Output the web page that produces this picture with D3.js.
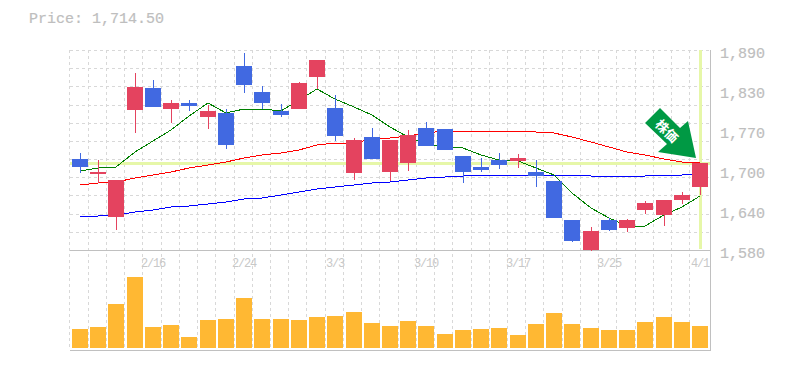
<!DOCTYPE html>
<html>
<head>
<meta charset="utf-8">
<script src="https://cdn.jsdelivr.net/npm/d3@7"></script>
<style>
  html, body { margin: 0; padding: 0; background: #fff; }
  svg { display: block; }
  text { font-family: "Liberation Mono", monospace; }
</style>
</head>
<body>
<div id="viewport"></div>
<script>
const price = 1714.5;
const priceTicks = [1580, 1642, 1704, 1766, 1828, 1890];
const priceTickLabels = ["1,580", "1,640", "1,700", "1,770", "1,830", "1,890"];
const dateLabels = {4: "2/16", 9: "2/24", 14: "3/3", 19: "3/10", 24: "3/17", 29: "3/25", 34: "4/1"};

const open = [1721.05,1697.8,1631.15,1797,1831.1,1798.55,1807.85,1786.15,1792.35,1865.2,1824.9,1795.45,1798.55,1848.15,1800.1,1699.35,1755.15,1700.9,1714.85,1769.1,1767.55,1725.7,1708.65,1719.5,1718,1700.9,1687,1626.5,1580,1626.5,1614.1,1642,1634.25,1657.5,1677.65];
const high = [1730.35,1719.5,1688.5,1854.35,1843.5,1812.5,1812.5,1804.75,1798.55,1885.35,1834.2,1806.3,1840.4,1874.5,1820.25,1753.6,1769.1,1750.5,1766,1778.4,1767.55,1725.7,1722.6,1730.35,1728.8,1719.5,1687,1626.5,1615.65,1629.6,1628.05,1655.95,1657.5,1669.9,1714.5];
const low = [1699.35,1683.85,1611,1761.35,1801.65,1776.85,1795.45,1767.55,1736.55,1823.35,1798.55,1786.15,1798.55,1829.55,1749,1688.5,1721.05,1687,1702.45,1741.2,1735,1683.85,1700.9,1705.55,1707.1,1677.65,1629.6,1592.4,1578.45,1609.45,1607.9,1635.8,1617.2,1651.3,1665.25];
const close = [1708.65,1700.9,1688.5,1832.65,1801.65,1807.85,1803.2,1795.45,1742.75,1835.75,1807.85,1789.25,1838.85,1874.5,1756.7,1750.5,1721.05,1750.5,1758.25,1741.2,1735,1700.9,1704,1711.75,1722.6,1694.7,1629.6,1594,1609.45,1611,1626.5,1652.85,1657.5,1665.25,1714.5];

const maShort = [1702.45,1707.1,1708.65,1731.9,1748.95,1766,1787.7,1807.85,1792.35,1798.55,1798.55,1795.45,1812.5,1829.55,1814,1801.65,1789.25,1770.65,1755.15,1744.3,1739.65,1738.1,1727.25,1719.5,1718,1707.1,1696.25,1668.35,1645.1,1629.6,1617.2,1617.2,1634.25,1646.65,1663.7];
const maMid = [1680.75,1683.85,1685.4,1691.6,1696.25,1700.9,1707.1,1711.75,1716.4,1722.6,1727.25,1730.35,1735,1742.75,1745.85,1745.85,1752.05,1753.6,1756.7,1761.35,1764.45,1764.45,1764.45,1764.45,1764.45,1762.9,1761.35,1755.15,1747.4,1739.65,1731.9,1727.25,1721.05,1716.4,1714.85];
const maLong = [1631.15,1632.7,1634.25,1638.9,1642,1646.65,1648.2,1651.3,1654.4,1659.05,1660.6,1665.25,1669.9,1674.55,1677.65,1680.75,1683.85,1685.4,1688.5,1691.6,1693.15,1694.7,1696.25,1696.25,1696.25,1696.25,1696.25,1696.25,1694.7,1694.7,1694.7,1694.7,1696.25,1696.25,1697.8];

const volume = [19,21,44,71,21,23,11,28,29,50,29,29,28,31,32,36,25,22,27,22,14,18,19,20,13,24,35,24,20,18,18,26,31,26,22];

const upColor = "#e4435f";
const downColor = "#4169e1";
const gridColor = "#d8d8d8";
const axisColor = "#c0c0c0";
const textColor = "#bebebe";
const markColor = "#e6f7a8";

const width = 785;
const height = 370;

const svg = d3.select("#viewport").append("svg")
	.attr("width", width)
	.attr("height", height);

const index = d3.range(open.length);

const x = d3.scaleBand().domain(index).range([70.9, 709.1]);
const y = d3.scaleLinear().domain([1580, 1890]).range([250, 50]);
const v = d3.scaleLinear().domain([0, 71]).range([348, 277]);

const center = (i) => Math.round(x(i) + x.bandwidth() / 2);
const gridX = (i) => Math.floor(x(i) - 1) + 0.5;

// grid
const grid = svg.append("g")
	.attr("stroke", gridColor)
	.attr("stroke-dasharray", "3,3")
	.attr("shape-rendering", "crispEdges");

grid.selectAll(".v")
	.data(index)
	.enter().append("line")
	.attr("x1", gridX).attr("x2", gridX)
	.attr("y1", 50).attr("y2", 350);

grid.selectAll(".h")
	.data(d3.range(0, 11))
	.enter().append("line")
	.attr("x1", 70).attr("x2", 710)
	.attr("y1", (d) => Math.round(50 + d * 200 / 11) + 0.5)
	.attr("y2", (d) => Math.round(50 + d * 200 / 11) + 0.5);

// current price + last date markers
svg.append("line")
	.attr("x1", 70).attr("x2", 710)
	.attr("y1", Math.round(y(price)) + 0.5).attr("y2", Math.round(y(price)) + 0.5)
	.attr("stroke", markColor).attr("stroke-width", 3)
	.attr("shape-rendering", "crispEdges");
svg.append("line")
	.attr("x1", center(34) + 0.5).attr("x2", center(34) + 0.5)
	.attr("y1", 50).attr("y2", 249)
	.attr("stroke", markColor).attr("stroke-width", 3)
	.attr("shape-rendering", "crispEdges");

// frame
const frame = svg.append("g").attr("stroke", axisColor).attr("shape-rendering", "crispEdges");
frame.append("line").attr("x1", 70).attr("x2", 711).attr("y1", 250.5).attr("y2", 250.5);
frame.append("line").attr("x1", 70).attr("x2", 711).attr("y1", 350.5).attr("y2", 350.5);
frame.append("line").attr("x1", 710.5).attr("x2", 710.5).attr("y1", 50).attr("y2", 351);

// moving averages
const line = d3.line().x((d, i) => center(i)).y((d) => y(d));
const maLine = (data, color, w) => svg.append("path")
	.attr("d", line(data))
	.attr("fill", "none")
	.attr("stroke", color)
	.attr("stroke-width", w)
	.attr("shape-rendering", "crispEdges");
maLine(maLong, "#0000ff", 1);
maLine(maMid, "#ff0000", 1);
maLine(maShort, "#008000", 1);

// candles
const isUp = (i) => close[i] >= open[i];
const candleColor = (i) => isUp(i) ? upColor : downColor;

svg.append("g").selectAll("line")
	.data(index)
	.enter().append("line")
	.attr("x1", (i) => center(i) + 0.5)
	.attr("x2", (i) => center(i) + 0.5)
	.attr("y1", (i) => y(high[i]))
	.attr("y2", (i) => y(low[i]))
	.attr("stroke", candleColor)
	.attr("stroke-width", 1)
	.attr("shape-rendering", "crispEdges");

svg.append("g").selectAll("rect")
	.data(index)
	.enter().append("rect")
	.attr("x", (i) => center(i) - 8)
	.attr("width", 16)
	.attr("y", (i) => Math.round(y(Math.max(open[i], close[i]))))
	.attr("height", (i) => Math.max(1, Math.round(Math.abs(y(open[i]) - y(close[i])))))
	.attr("fill", candleColor);

// volume
svg.append("g").selectAll("rect")
	.data(index)
	.enter().append("rect")
	.attr("x", (i) => center(i) - 8)
	.attr("width", 16)
	.attr("y", (i) => v(volume[i]))
	.attr("height", (i) => v(0) - v(volume[i]))
	.attr("fill", "#ffb833");

// labels
svg.append("text")
	.attr("x", 29).attr("y", 23)
	.attr("font-size", 15)
	.attr("fill", textColor)
	.attr("stroke", textColor)
	.attr("stroke-width", 0.2)
	.text("Price: " + d3.format(",.2f")(price));

svg.append("g").selectAll("text")
	.data(priceTicks)
	.enter().append("text")
	.attr("x", 720)
	.attr("y", (d) => y(d) + 8)
	.attr("font-size", 15)
	.attr("fill", textColor)
	.attr("stroke", textColor)
	.attr("stroke-width", 0.2)
	.text((d, i) => priceTickLabels[i]);

svg.append("g").selectAll("text")
	.data(Object.keys(dateLabels))
	.enter().append("text")
	.attr("x", (d) => center(+d))
	.attr("y", 267)
	.attr("text-anchor", "middle")
	.attr("font-size", 12)
	.attr("letter-spacing", -1.2)
	.attr("fill", "#c8c8c8")
	.text((d) => dateLabels[d]);

// arrow
const arrow = svg.append("g");
arrow.append("path")
	.attr("d", "M660,108 L645,123 L667,144 L658,152 L696,158 L688,121 L680,128 Z")
	.attr("fill", "#009944");
arrow.append("text")
	.attr("transform", "translate(667,131) rotate(45)")
	.attr("text-anchor", "middle")
	.attr("dy", "0.38em")
	.attr("font-size", 13)
	.attr("font-weight", "bold")
	.attr("fill", "#fff")
	.style("font-family", "'Noto Sans CJK JP'")
	.text("株価");
</script>
</body>
</html>
